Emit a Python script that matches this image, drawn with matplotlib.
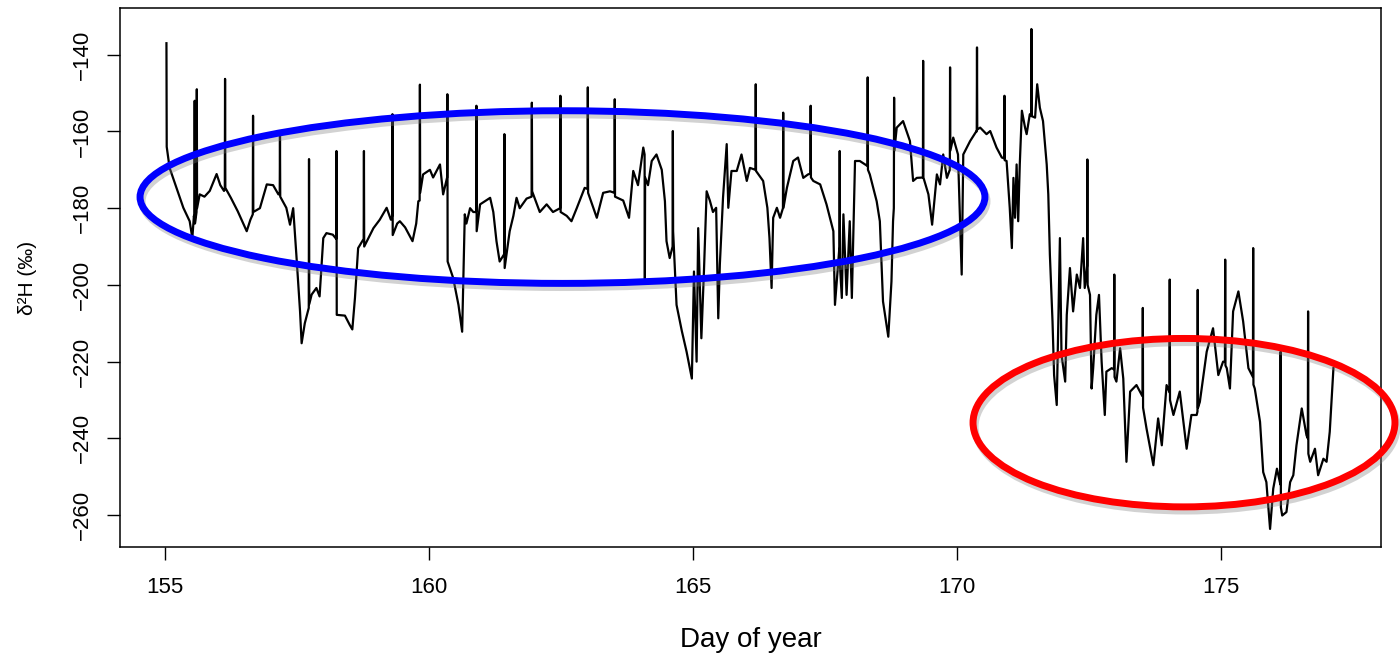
import matplotlib
matplotlib.use("Agg")
import matplotlib.pyplot as plt
import matplotlib.patheffects as pe
from matplotlib.patches import Ellipse

plt.rcParams['font.family'] = ['Liberation Sans', 'DejaVu Sans']

# (day of year, d2H permil), split by stretch of record
seg_a = [(155.03, -137.0), (155.035, -164.0), (155.09, -169.5), (155.22, -174.7), (155.35, -179.9),
         (155.47, -183.4), (155.52, -187.8), (155.55, -182.0), (155.56, -183.0), (155.565, -152.0),
         (155.57, -184.0), (155.60, -181.0), (155.605, -149.0), (155.61, -180.0), (155.66, -176.4),
         (155.75, -177.0), (155.85, -175.5), (155.98, -171.1), (156.05, -174.0), (156.12, -175.5),
         (156.135, -175.0), (156.14, -146.3), (156.145, -174.7), (156.25, -177.3), (156.38, -180.8),
         (156.55, -186.0), (156.62, -183.0), (156.665, -181.6), (156.67, -155.9), (156.675, -181.0),
         (156.80, -180.0), (156.93, -173.8), (157.05, -174.0), (157.15, -176.4), (157.175, -176.4),
         (157.18, -161.2), (157.185, -177.0), (157.30, -179.9), (157.37, -184.3), (157.43, -180.0),
         (157.49, -192.1), (157.56, -206.9), (157.59, -215.2), (157.65, -210.0), (157.725, -206.0),
         (157.73, -167.2), (157.735, -205.0), (157.78, -202.5), (157.87, -200.8), (157.93, -203.0),
         (158.00, -187.8), (158.06, -186.5), (158.18, -186.9), (158.245, -188.0), (158.25, -165.1),
         (158.255, -207.8), (158.41, -208.0), (158.50, -210.4), (158.55, -211.6), (158.60, -203.4),
         (158.66, -190.4), (158.765, -188.0), (158.77, -165.1), (158.775, -190.0), (158.95, -185.2),
         (159.07, -183.0), (159.20, -179.9), (159.28, -183.0), (159.305, -182.0), (159.31, -155.5),
         (159.315, -187.0), (159.40, -184.0), (159.45, -183.4), (159.55, -185.0), (159.69, -188.6),
         (159.76, -184.0), (159.80, -178.2), (159.825, -178.0), (159.83, -147.8), (159.835, -176.0)]

seg_b = [(159.89, -171.2), (160.02, -170.0), (160.08, -172.0), (160.21, -168.6), (160.27, -176.4),
         (160.345, -172.0), (160.35, -150.3), (160.355, -193.9), (160.46, -198.2), (160.56, -205.2),
         (160.63, -212.2), (160.65, -200.0), (160.68, -181.6), (160.71, -184.0), (160.78, -180.0),
         (160.84, -181.0), (160.895, -181.0), (160.90, -153.3), (160.905, -186.0), (160.97, -179.0),
         (161.16, -177.3), (161.22, -181.0), (161.28, -188.6), (161.34, -193.9), (161.425, -192.0),
         (161.43, -160.7), (161.435, -195.6), (161.53, -186.0), (161.60, -182.0), (161.66, -177.3),
         (161.72, -180.0), (161.85, -177.5), (161.945, -177.0), (161.95, -152.5), (161.955, -175.6),
         (162.10, -181.0), (162.23, -179.0), (162.35, -181.0), (162.485, -180.0), (162.49, -150.7),
         (162.495, -181.0), (162.61, -182.0), (162.70, -183.4), (162.80, -180.0), (162.95, -174.7),
         (163.005, -175.0), (163.01, -148.5), (163.015, -176.0), (163.18, -182.5), (163.30, -176.0),
         (163.43, -175.6), (163.515, -176.0), (163.52, -151.6), (163.525, -177.0), (163.68, -178.0),
         (163.79, -182.5), (163.87, -170.3), (163.96, -174.0), (164.06, -164.2), (164.085, -166.0),
         (164.09, -198.6), (164.095, -172.0), (164.15, -174.0), (164.22, -167.7), (164.31, -166.0),
         (164.41, -170.0), (164.47, -178.2), (164.50, -188.6), (164.56, -193.0), (164.615, -190.0),
         (164.62, -159.9), (164.625, -186.0), (164.69, -205.2), (164.79, -212.0), (164.88, -217.4),
         (164.98, -224.4), (165.02, -196.5), (165.07, -220.0), (165.10, -185.2)]

seg_c = [(165.16, -213.9), (165.21, -196.0), (165.26, -175.6), (165.32, -178.0), (165.38, -181.0),
         (165.44, -179.9), (165.48, -208.7), (165.51, -194.7), (165.57, -177.3), (165.64, -163.3),
         (165.67, -179.9), (165.73, -170.3), (165.83, -170.3), (165.92, -166.0), (166.02, -172.9),
         (166.08, -169.5), (166.185, -170.0), (166.19, -147.7), (166.195, -170.3), (166.33, -172.9),
         (166.41, -179.9), (166.45, -187.8), (166.49, -200.8), (166.52, -182.5), (166.59, -179.9),
         (166.65, -182.5), (166.705, -180.0), (166.71, -155.1), (166.715, -179.9), (166.78, -174.7),
         (166.90, -167.7), (166.99, -166.8), (167.09, -172.1), (167.18, -171.2), (167.225, -171.0),
         (167.23, -153.3), (167.235, -172.0), (167.28, -172.9), (167.41, -173.8), (167.53, -179.0),
         (167.66, -186.0), (167.69, -205.2), (167.775, -190.0), (167.78, -165.1), (167.785, -195.0),
         (167.82, -203.4), (167.85, -181.6), (167.91, -202.6), (167.97, -183.4), (168.01, -203.4),
         (168.07, -167.7), (168.16, -167.7), (168.26, -168.6), (168.305, -169.0), (168.31, -145.9),
         (168.315, -170.0), (168.35, -171.2), (168.48, -178.2), (168.54, -183.4), (168.60, -204.3),
         (168.70, -213.5), (168.76, -199.1), (168.79, -183.4), (168.805, -180.0), (168.81, -151.2),
         (168.815, -165.0), (168.86, -159.0), (168.98, -157.3), (169.11, -162.5), (169.17, -172.9),
         (169.24, -172.1), (169.355, -172.0), (169.36, -141.6), (169.365, -172.0), (169.46, -176.4),
         (169.53, -184.3), (169.62, -171.2), (169.68, -173.8), (169.74, -166.0), (169.81, -172.1),
         (169.865, -170.0), (169.87, -143.3), (169.875, -165.0), (169.93, -161.6), (170.02, -166.0),
         (170.09, -197.3), (170.12, -166.0)]

seg_d = [(170.25, -162.5), (170.37, -159.9), (170.375, -160.0), (170.38, -138.1), (170.385, -159.5),
         (170.44, -159.0), (170.56, -160.7), (170.63, -159.9), (170.75, -164.2), (170.85, -166.8),
         (170.895, -167.0), (170.90, -150.7), (170.905, -167.5), (170.94, -167.7), (171.00, -179.9),
         (171.04, -190.4), (171.07, -172.1), (171.10, -182.5), (171.13, -168.6), (171.16, -183.4),
         (171.19, -168.6), (171.23, -154.6), (171.29, -159.0), (171.32, -160.7), (171.38, -155.5),
         (171.405, -156.0), (171.41, -133.3), (171.415, -156.0), (171.48, -156.4), (171.52, -147.7),
         (171.57, -153.8), (171.63, -157.3), (171.70, -168.6), (171.73, -176.4), (171.76, -192.1),
         (171.81, -209.5), (171.84, -223.5), (171.89, -231.3), (171.92, -209.5), (171.95, -187.8),
         (171.98, -218.2), (172.05, -225.2), (172.08, -207.8), (172.14, -195.6), (172.20, -206.9),
         (172.27, -197.3), (172.33, -200.8), (172.39, -187.8), (172.42, -200.8), (172.465, -195.0),
         (172.47, -167.3), (172.475, -200.0), (172.52, -202.6), (172.55, -227.0), (172.58, -221.7),
         (172.64, -207.8), (172.69, -202.6), (172.74, -220.0), (172.80, -233.9), (172.83, -222.6),
         (172.93, -221.7), (172.975, -222.0), (172.98, -197.3), (172.985, -224.0), (173.02, -225.2),
         (173.09, -216.5), (173.15, -224.4), (173.21, -246.1), (173.28, -227.8), (173.40, -226.1),
         (173.50, -228.7), (173.515, -229.0), (173.52, -206.0), (173.525, -232.0), (173.59, -237.4),
         (173.72, -247.0), (173.81, -234.8), (173.88, -241.8), (173.97, -226.1), (174.025, -228.0),
         (174.03, -198.6), (174.035, -230.0), (174.10, -233.9), (174.22, -227.8), (174.35, -242.7),
         (174.44, -233.9), (174.54, -233.9), (174.555, -233.0), (174.56, -201.3), (174.565, -232.0),
         (174.60, -230.5), (174.73, -217.4), (174.85, -211.3), (174.95, -223.5), (175.04, -220.0),
         (175.075, -220.0), (175.08, -193.4), (175.085, -221.0), (175.11, -221.7), (175.17, -227.0),
         (175.23, -206.9), (175.33, -201.7), (175.42, -209.5), (175.52, -221.7), (175.605, -224.0),
         (175.61, -190.4), (175.615, -226.0), (175.64, -227.0), (175.74, -235.7), (175.80, -248.8),
         (175.86, -251.4), (175.93, -263.6), (175.99, -253.1), (176.06, -247.9), (176.125, -252.0),
         (176.13, -217.4), (176.135, -258.0), (176.16, -260.1), (176.24, -259.2), (176.31, -251.4),
         (176.37, -249.6), (176.43, -241.8), (176.53, -232.2), (176.62, -239.2), (176.645, -240.0),
         (176.65, -206.9), (176.655, -244.0), (176.69, -246.1), (176.78, -242.7), (176.84, -249.6),
         (176.94, -245.3), (177.00, -246.1), (177.06, -238.3), (177.13, -221.7)]

x_ticks = [155, 160, 165, 170, 175]
y_ticks = [-260, -240, -220, -200, -180, -160, -140]

record = seg_a + seg_b + seg_c + seg_d
day = [p[0] for p in record]
d2h = [p[1] for p in record]

fig = plt.figure(figsize=(14, 6.59), dpi=100)
ax = fig.add_axes([0.0857, 0.170, 0.9007, 0.818])

ax.plot(day, d2h, color='black', lw=1.6)

ax.set_xlim(154.15, 178.03)
ax.set_ylim(-268.3, -127.8)
ax.set_xticks(x_ticks)
ax.set_yticks(y_ticks)
ax.tick_params(axis='x', length=9.5, width=1, pad=12, labelsize=16)
ax.tick_params(axis='y', length=9.5, width=1, pad=10, labelsize=16, labelrotation=90)
for lab in ax.get_yticklabels():
    lab.set_va('center')
for s in ax.spines.values():
    s.set_linewidth(1.1)

ax.set_xlabel('Day of year', fontsize=20)
ax.xaxis.set_label_coords(0.5, -0.1725)
ax.xaxis.label.set_va('center')
ax.set_ylabel('δ²H (‰)', fontsize=15)
ax.yaxis.set_label_coords(-0.073, 0.5)
ax.yaxis.label.set_va('center')

# highlight ellipses with a soft drop shadow
shadow = [pe.SimpleLineShadow(offset=(1.5, -3), shadow_color='gray', alpha=0.35),
          pe.Normal()]
blue = Ellipse((162.53, -177.1), 16.0, 45.0, fill=False, edgecolor='#0000ff', lw=5,
               clip_on=False, zorder=5)
red = Ellipse((174.30, -235.9), 7.99, 43.9, fill=False, edgecolor='#ff0000', lw=5,
              clip_on=False, zorder=5)
for e in (blue, red):
    e.set_path_effects(shadow)
    ax.add_patch(e)

fig.savefig('out.png', dpi=100)
